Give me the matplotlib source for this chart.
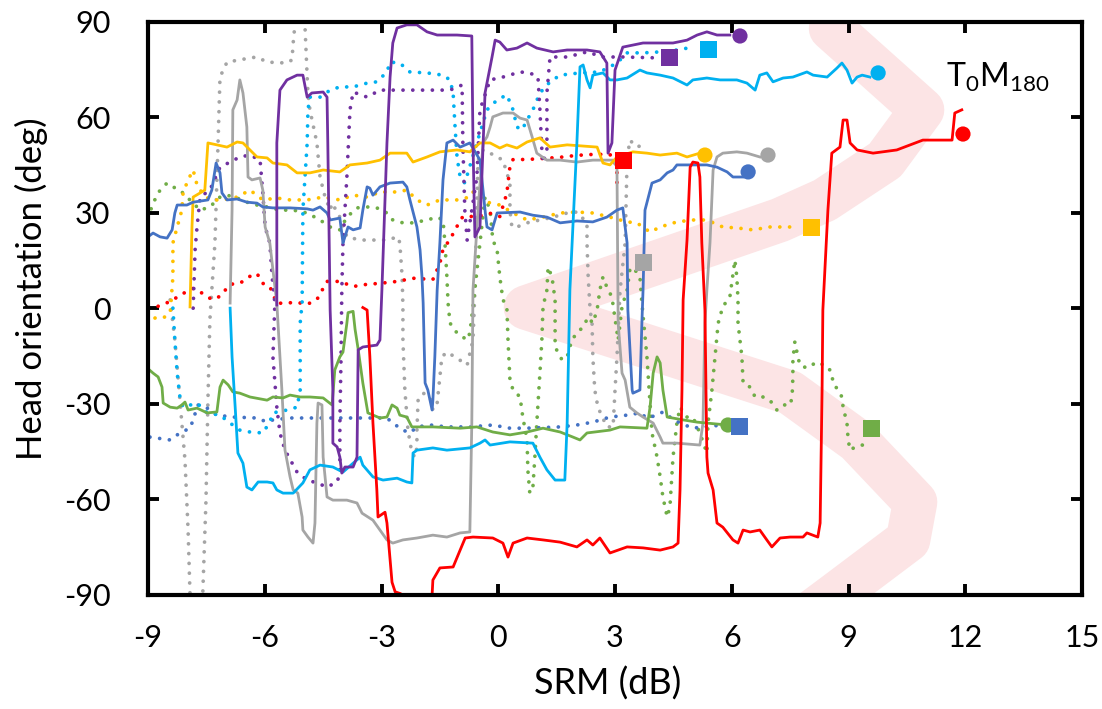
import matplotlib
matplotlib.use("Agg")
import matplotlib.pyplot as plt

# Predicted SRM band (centre line of the shaded path)
band_x = [8.55, 10.89, 9.94, 8.39, 7.24, 0.71, 7.50, 9.22, 10.71, 10.53, 8.65, 7.75]
band_y = [88.0, 62.4, 46.6, 34.1, 27.8, 0.3, -26.4, -41.6, -60.8, -72.7, -90.0, -98.2]

# Solid traces
red_x = [-3.48, -3.37, -3.30, -3.22, -3.12, -3.09, -2.91, -2.86, -2.73, -2.65, -2.53, -2.27, -1.75, -1.70,
         -1.68, -1.50, -1.16, -0.98, -0.85, -0.65, -0.14, 0.12, 0.25, 0.38, 0.74, 1.15, 1.59, 2.02, 2.28,
         2.43, 2.61, 2.87, 3.31, 3.72, 4.16, 4.49, 4.62, 4.67, 4.72, 4.75, 4.85, 4.93, 5.00, 5.13, 5.18,
         5.23, 5.31, 5.36, 5.39, 5.52, 5.62, 5.77, 6.03, 6.16, 6.29, 6.47, 6.72, 6.90, 7.03, 7.24, 7.50,
         7.83, 7.93, 8.21, 8.27, 8.32, 8.34, 8.47, 8.57, 8.78, 8.86, 8.96, 9.04, 9.22, 9.63, 10.24, 10.91,
         11.53, 11.66, 11.73, 11.91]
red_y = [0.3, -0.5, -15, -36, -57, -65.5, -64, -67.4, -86, -89, -89.5, -91, -91, -90,
         -85.3, -81.5, -81.2, -75.9, -72.1, -71.8, -72.1, -73.7, -78.1, -73.7, -72.1, -72.7, -73.4, -74.9, -72.7,
         -74.3, -72.1, -76.8, -74.9, -75.2, -75.9, -74.9, -73.7, -57, -25.6, 2.7, 21.5, 44.4, 46, 45.7, 41.3,
         20.6, -0.5, -46.7, -51.7, -57, -67.4, -68.7, -72.7, -73.7, -69.6, -70.2, -69.6, -72.7, -74.9, -72.1, -71.8,
         -71.8, -70.5, -71.8, -67.4, -25.6, -0.5, 30.9, 48.8, 50.7, 59.2, 59.2, 52, 49.8, 48.8, 49.8, 52.9,
         52.9, 52.9, 61.4, 62.4]

purple_x = [-5.69, -5.69, -5.69, -5.61, -5.43, -5.17, -5.02, -4.91, -4.79, -4.50, -4.40, -4.38, -4.32, -4.25,
            -4.25, -4.14, -4.07, -4.02, -3.94, -3.73, -3.63, -3.60, -3.48, -3.12, -3.04, -2.99, -2.86, -2.78,
            -2.71, -2.60, -2.35, -2.09, -1.83, -1.57, -1.06, -0.68, -0.65, -0.60, -0.47, -0.34, -0.16, -0.08,
            0.04, 0.22, 0.48, 0.74, 0.99, 1.41, 1.77, 2.28, 2.61, 2.79, 2.82, 2.92, 3.00, 3.20, 3.72, 4.49,
            4.85, 5.11, 5.36, 5.62, 5.95]
purple_y = [1.1, 34, 52, 68.6, 71.8, 73.3, 73.3, 66.4, 67.7, 68, 66.4, 52, -0.5, -25.6,
            -42.3, -43.5, -46.7, -51.7, -49.8, -49.8, -46.7, -13, -12.1, -11.5, -9.9, 5.8, 52, 72.7,
            83.4, 88.1, 89.1, 89.1, 86.9, 85.9, 85.9, 85.6, 52, 22.5, 25.6, 67.7, 79, 84.3,
            83.7, 81.2, 81.8, 83.4, 81.8, 80.6, 81.2, 81.2, 80.6, 77.1, 48.8, 52, 74.9, 82.1, 83.4, 83.4,
            84.3, 85.9, 86.9, 85.9, 85.9]

cyan_x = [-6.89, -6.84, -6.76, -6.69, -6.56, -6.46, -6.33, -6.17, -5.94, -5.79, -5.69, -5.53, -5.27, -5.02,
          -4.84, -4.58, -4.25, -3.99, -3.73, -3.55, -3.48, -3.22, -2.96, -2.60, -2.35, -2.22, -2.19, -2.09,
          -1.68, -1.32, -0.73, -0.47, -0.34, -0.21, 0.30, 0.89, 1.07, 1.25, 1.46, 1.71, 1.77, 1.84, 2.02,
          2.10, 2.18, 2.28, 2.36, 2.43, 2.69, 2.87, 3.05, 3.31, 3.64, 3.82, 4.16, 4.49, 4.85, 5.00, 5.36,
          5.70, 6.13, 6.39, 6.60, 6.72, 6.90, 7.06, 7.32, 7.57, 7.93, 8.09, 8.45, 8.70, 8.83, 8.96, 9.09,
          9.22, 9.35, 9.55]
cyan_y = [0.1, -15.2, -31, -45.4, -48.6, -56.1, -57, -54.5, -54.5, -54.8, -57, -58, -58, -54.8,
          -50.7, -49.2, -49.8, -51.4, -48.6, -46.7, -49.2, -52.9, -53.9, -53.3, -54.5, -54.8, -45.4, -44.5,
          -43.8, -44.5, -43.8, -42.3, -41.3, -42.9, -41.9, -42.3, -46.7, -50.7, -53.9, -53.9, -36, 5.8, 52,
          75.9, 76.5, 71.8, 69.3, 73.3, 74, 71.8, 71.8, 72.4, 74.9, 74, 73.3, 72.4, 70.2, 71.8, 72.4,
          71.8, 71.8, 70.8, 68.6, 73.3, 74, 71.2, 72.4, 72.7, 74.3, 73.3, 72.7, 75.5, 77.1, 74.9, 70.8,
          72.7, 73.3, 72.7]

yellow_x = [-7.92, -7.87, -7.84, -7.66, -7.54, -7.46, -7.23, -6.97, -6.71, -6.56, -6.38, -6.20, -5.94, -5.79,
            -5.43, -5.17, -4.84, -4.50, -4.07, -3.81, -3.37, -3.04, -2.78, -2.35, -2.19, -1.83, -1.50, -1.06,
            -0.73, -0.47, -0.21, 0.04, 0.22, 0.48, 0.74, 1.07, 1.33, 1.77, 2.54, 2.69, 2.87, 3.05, 3.46,
            3.82, 4.16, 4.59, 4.85, 5.18]
yellow_y = [0.5, 25.6, 35, 36.3, 37.2, 52, 51.4, 50.7, 52.3, 52, 49.8, 47.6, 47.3, 45.7,
            45.1, 42.6, 42.6, 43.5, 42.9, 45.1, 45.7, 46.6, 48.8, 48.8, 46, 47.6, 49.2, 49.8,
            49.2, 52, 52, 50.4, 51.4, 50.4, 52.3, 53.6, 50.7, 51.4, 50.7, 45.7, 45.1, 47.6, 49.2,
            48.8, 48.2, 48.8, 47.6, 48.8]

gray_x = [-6.89, -6.84, -6.82, -6.71, -6.64, -6.56, -6.46, -6.43, -6.33, -6.12, -6.05, -5.99, -5.87, -5.79,
          -5.69, -5.66, -5.56, -5.48, -5.35, -5.27, -5.15, -5.04, -5.02, -4.89, -4.76, -4.71, -4.66, -4.63,
          -4.53, -4.50, -4.40, -4.25, -3.89, -3.63, -3.50, -3.22, -3.04, -2.86, -2.71, -2.45, -2.09, -1.68,
          -1.32, -0.98, -0.73, -0.68, -0.65, -0.52, -0.39, -0.29, -0.21, -0.14, 0.12, 0.38, 0.56, 0.74,
          0.87, 0.99, 1.25, 1.59, 2.02, 2.43, 2.95, 3.05, 3.08, 3.18, 3.26, 3.38, 3.56, 3.72, 3.98, 4.16,
          4.23, 4.59, 5.18, 5.26, 5.31, 5.36, 5.44, 5.52, 5.62, 5.77, 6.13, 6.39, 6.72]
gray_y = [1.7, 30.9, 62.4, 65.5, 71.8, 67.7, 57, 41.3, 40.4, 41, 37.2, 25.6, 20.6, 12.1,
          1.7, -4.6, -25.6, -44.5, -52.9, -57, -58, -65.5, -69.6, -71.8, -73.7, -67.4, -36, -29.7,
          -30.3, -46.7, -59.2, -60.2, -60.2, -61.1, -64.3, -66.5, -69.6, -72.7, -73.7, -72.7, -72.1, -71.2,
          -71.8, -70.5, -70.2, -36, 5.8, 30.9, 52, 53.9, 57, 60.2, 61.4, 61.4, 59.8, 59.2,
          53.9, 48.8, 46.6, 46.6, 46, 46.6, 46.6, 44.4, -4.6, -20.3, -22.5, -31, -32.8, -34.1, -36, -40.4,
          -42.3, -42.3, -42.9, -36, -4.6, 5.8, 20.6, 43.5, 47.6, 48.8, 49.2, 48.8, 47.6]

blue_x = [-9.0, -8.87, -8.69, -8.51, -8.38, -8.31, -8.25, -8.0, -7.84, -7.46, -7.36, -7.25, -7.15, -7.10,
          -6.97, -6.71, -6.46, -6.20, -6.05, -5.79, -5.35, -4.91, -4.76, -4.58, -4.40, -4.32, -4.07, -3.99,
          -3.94, -3.86, -3.73, -3.55, -3.48, -3.37, -3.30, -3.22, -3.04, -2.78, -2.45, -2.35, -2.27, -2.09,
          -2.01, -1.96, -1.93, -1.88, -1.81, -1.70, -1.68, -1.63, -1.57, -1.50, -1.42, -1.32, -1.16, -0.98,
          -0.73, -0.65, -0.47, -0.34, -0.29, -0.16, -0.03, 0.56, 0.89, 1.25, 1.59, 2.02, 2.43, 2.79, 3.05,
          3.20, 3.31, 3.33, 3.44, 3.46, 3.64, 3.69, 3.72, 3.77, 3.95, 4.16, 4.34, 4.49, 4.59, 5.36, 5.62,
          5.88, 6.03, 6.29]
blue_y = [22.5, 23.7, 22.5, 22.1, 24.7, 30, 32.5, 32.5, 33.4, 34.1, 37.2, 45.7, 42.6, 36.3,
          34.1, 34.4, 33.4, 33.1, 31.9, 31.6, 31.6, 31.3, 30.9, 31.9, 30, 27.8, 28.4, 20.6,
          22.5, 25.6, 24.7, 25.3, 30.9, 38.2, 37.8, 35.6, 38.2, 39.4, 39.7, 38.2, 34.1, 25.6,
          18.4, 9.9, 1.7, -23.4, -25.6, -31.9, -28.8, -15.2, 5.8, 20.6, 40.4, 52, 52.9, 50.7,
          52, 50.4, 46.6, 30.9, 25.6, 24.7, 30, 30.3, 29.3, 28.7, 26.9, 27.5, 27.2, 28.7, 30.9,
          31.6, 20.6, -0.5, -25.6, -26.6, -25.6, -4.6, 5.8, 30.9, 39.4, 40.4, 42.6, 43.5, 45.1, 45.1, 44.4,
          42.9, 41.3, 41.3]

green_x = [-9.02, -8.87, -8.74, -8.64, -8.61, -8.43, -8.25, -8.13, -8.05, -7.97, -7.74, -7.48, -7.23, -7.15,
           -7.07, -6.94, -6.82, -6.64, -6.38, -5.94, -5.79, -5.53, -5.35, -5.09, -4.84, -4.50, -4.27, -4.20,
           -4.07, -3.99, -3.89, -3.86, -3.73, -3.68, -3.60, -3.48, -3.35, -3.04, -2.86, -2.73, -2.60, -2.53,
           -2.35, -2.22, -1.68, -0.98, -0.55, -0.14, 0.30, 0.74, 1.15, 1.59, 1.92, 2.10, 2.28, 2.87, 3.13,
           3.82, 3.90, 3.98, 4.08, 4.16, 4.23, 4.34, 4.75, 5.11, 5.36, 5.88]
green_y = [-18.7, -20.3, -21.5, -24.7, -29.7, -31, -31.3, -30.3, -29.4, -31.9, -31.3, -32.8, -32.5, -24.7,
           -22.5, -24, -26.2, -26.6, -27.8, -28.8, -27.8, -28.1, -27.2, -27.8, -27.8, -28.1, -30.3, -19.3,
           -15.2, -13.7, -4.6, -1.3, -0.9, -6.5, -12.8, -23.4, -32.8, -34.4, -34.1, -30.3, -31.3, -33.5,
           -34.1, -37.2, -37.2, -37.6, -37.2, -38.8, -39.7, -38.8, -37.6, -38.8, -40.4, -41.3, -39.1, -38.2, -37.2,
           -37.6, -31, -20.3, -15.2, -17.1, -25.6, -34.1, -35, -35.7, -36, -36.6]

# Dotted traces
red_dot_x = [-8.74, -8.43, -8.10, -7.84, -7.59, -7.36, -7.15, -6.89, -6.64, -6.38, -6.20, -6.05, -5.87, -5.69,
             -5.17, -4.91, -4.66, -4.40, -4.07, -3.73, -3.37, -3.04, -2.60, -2.19, -1.68, -1.50, -1.42, -1.24,
             -1.06, -0.91, -0.55, -0.21, 0.04, 0.22, 0.30, 0.38, 0.74, 1.25, 1.59, 2.02, 2.43, 2.87, 3.05, 3.05]
red_dot_y = [0.7, 2.2, 4.7, 6.3, 4.7, 2.8, 3.8, 7.6, 7.9, 10.1, 11.0, 7.9, 6.9, 1.6,
             1.9, 1.3, 2.8, 8.5, 8.5, 6.9, 7.6, 7.9, 8.5, 9.5, 9.1, 14.2, 18.6, 21.7,
             25.8, 28.9, 28.9, 29.9, 28.9, 36.2, 44.6, 46.8, 46.8, 47.2, 47.5, 48.1, 48.4, 48.4, 44.6, 36.6]

purple_dot_x = [-7.84, -7.79, -7.74, -7.66, -7.41, -7.15, -6.89, -6.64, -6.38, -6.12, -6.05, -5.99, -5.87, -5.81,
                -5.74, -5.79, -5.69, -5.61, -5.48, -5.17, -4.91, -4.66, -4.40, -4.14, -4.07, -4.07, -4.04, -4.02,
                -3.99, -3.89, -3.81, -3.73, -3.37, -3.04, -2.19, -1.24, -0.93, -0.91, -0.86, -0.80, -0.73, -0.55,
                -0.47, -0.21, 0.12, 0.56, 0.81, 1.02, 1.07, 1.12, 1.15, 1.25, 1.25, 1.33, 1.77, 2.28, 2.69, 3.20,
                4.16]
purple_dot_y = [0.1, 18.4, 25.6, 35, 37.2, 44.4, 46, 47.6, 48.2, 46.6, 36.3, 25.6, 20.6, 9.9,
                1.7, -15.2, -31, -39.1, -44.5, -51.4, -53.9, -54.8, -56.1, -54.5, -51.7, -36, -15.2, 5.8,
                20.6, 41.3, 62.4, 68, 66.4, 68.6, 68.6, 68.6, 70.2, 52, 30.9, 21.5, 26.9, 41.3,
                62.4, 71.8, 72.7, 74.3, 74, 72.7, 62.4, 49.8, 45.7, 49.8, 67.7, 79, 79, 80.6, 79, 79,
                78.7]

cyan_dot_x = [-8.36, -8.31, -8.25, -8.18, -8.10, -7.74, -7.48, -7.15, -6.89, -6.64, -6.38, -6.05, -5.87, -5.79,
              -5.43, -5.17, -5.09, -5.09, -5.04, -5.02, -4.91, -4.89, -4.84, -4.58, -4.32, -4.07, -3.73, -3.37,
              -3.12, -2.86, -2.78, -2.53, -2.27, -1.83, -1.42, -1.24, -1.16, -1.11, -1.06, -0.98, -0.86, -0.55,
              -0.29, -0.03, 0.22, 0.38, 0.48, 0.61, 0.74, 0.89, 1.07, 1.33, 1.59, 2.10, 2.61, 3.05, 3.31,
              3.72, 4.16, 4.59, 5.00]
cyan_dot_y = [0.1, -9.9, -20.3, -27.8, -31, -29.7, -32.8, -33.5, -36, -38.2, -38.8, -39.1, -35.7, -32.8,
              -31.9, -31, -25.6, -4.6, 1.7, 30.9, 52, 62.4, 66.4, 66.4, 68.6, 69.6, 69.6, 70.8,
              71.2, 74.3, 77.4, 77.1, 74.3, 74, 73.3, 71.8, 67.7, 57, 47.6, 41.3, 39.4, 52,
              62.4, 65.5, 67.1, 62.4, 57, 56.1, 59.2, 62.4, 67.7, 71.2, 73.3, 74, 74.3, 77.1, 80.3,
              80.3, 80.6, 81.2, 82.1]

yellow_dot_x = [-8.82, -8.61, -8.43, -8.36, -8.36, -8.25, -8.13, -8.10, -7.97, -7.84, -7.74, -7.61, -7.41, -7.07,
                -6.71, -6.38, -6.05, -5.69, -5.35, -4.91, -4.50, -4.07, -3.73, -3.37, -3.04, -2.60, -2.35, -2.09,
                -1.83, -1.50, -1.06, -0.73, -0.65, -0.29, 0.04, 0.38, 0.74, 1.15, 1.59, 2.02, 2.43, 2.87, 3.31,
                3.56, 3.90, 4.16, 4.59, 5.00, 5.36, 5.77, 6.13, 6.54, 6.98, 7.50]
yellow_dot_y = [-3.0, -3.0, -1.4, 9.9, 20.6, 25.6, 30.9, 36.3, 40.4, 43.5, 38.8, 36.3, 34.1, 34.1,
                35, 37.2, 34.1, 34.7, 34.1, 34.1, 35, 34.1, 35.6, 35, 36.6, 36.6, 37.2, 34.1,
                32.5, 34.1, 34.1, 35, 36.6, 33.4, 32.5, 30, 27.8, 28.7, 30, 30.3, 30, 28.7, 27.2,
                26.9, 24, 25.6, 27.2, 27.8, 27.8, 25.6, 25.3, 24.7, 25.6, 25.6]

gray_dot_x = [-8.43, -8.31, -8.18, -8.05, -7.97, -7.92, -7.90, -7.61, -7.59, -7.51, -7.46, -7.41, -7.36, -7.28,
              -7.20, -7.15, -6.97, -6.64, -6.38, -6.20, -5.94, -5.43, -5.30, -5.27, -5.22, -5.20, -4.97, -4.97,
              -4.91, -4.89, -4.84, -4.66, -4.58, -4.45, -4.32, -4.27, -4.07, -3.89, -3.55, -2.86, -2.58, -2.53,
              -2.47, -2.45, -2.45, -2.40, -2.32, -2.22, -2.14, -2.09, -2.09, -2.06, -1.93, -1.75, -1.68, -1.57,
              -1.50, -1.45, -1.32, -1.06, -0.80, -0.65, -0.60, -0.52, -0.39, -0.21, 0.12, 0.30, 0.30, 0.35,
              0.48, 0.74, 1.07, 1.41, 1.77, 2.02, 2.28, 2.28, 2.31, 2.36, 2.41, 2.43, 2.48, 2.56, 2.79, 2.95,
              3.00, 3.05, 3.13, 3.26, 3.31, 3.38, 3.56, 3.72]
gray_dot_y = [2.7, -9.9, -28.8, -47.6, -69.6, -90, -98, -98, -88.5, -60.2, -28.8, -3.6, 5.8, 20.6,
              52, 72.7, 77.4, 78.1, 78.7, 79, 77.4, 77.1, 78.1, 83.4, 89.7, 95, 95, 89.7,
              72.7, 67.7, 62.4, 52, 41.3, 35, 30.9, 33.1, 28.7, 22.5, 21.5, 21.5, 22.5, 20.6,
              9.9, 0.6, -9.9, -25.6, -38.2, -45.4, -46.7, -43.5, -38.2, -28.8, -26.6, -27.8, -31.9, -29.7,
              -21.5, -15.2, -13.7, -15.6, -17.8, -9.9, 5.8, 46.6, 49.8, 48.8, 46.6, 39.4, 30.9, 25.6,
              25.6, 26.9, 27.8, 28.7, 30, 30.3, 26.9, 20.6, 9.9, -0.5, -4.6, -15.2, -25.6, -31, -37.2, -37.2,
              -25.6, -15.2, 5.8, 20.6, 46.6, 52.9, 50.7, 51.4]

blue_dot_x = [-8.95, -8.43, -8.18, -7.92, -7.84, -7.72, -7.48, -7.23, -6.82, -6.20, -5.94, -5.79, -5.35, -2.86,
              -2.71, -2.45, -2.27, -2.09, -1.75, -1.32, -0.73, -0.14, 0.30, 0.74, 1.59, 2.02, 2.43, 2.87,
              3.31, 3.64, 3.82, 4.08, 4.23, 4.41, 4.67, 5.00, 5.26, 5.77]
blue_dot_y = [-40.4, -41.3, -39.1, -37.6, -35, -30.3, -31.3, -33.5, -34.1, -34.4, -35.7, -35, -34.4, -34.4,
              -36, -38.2, -39.1, -37.2, -36.6, -37.2, -37.2, -36.6, -37.6, -37.6, -37.2, -36.6, -35.7, -34.1,
              -33.5, -32.8, -34.4, -33.5, -32.5, -34.1, -36, -37.6, -37.2, -36.6]

green_dot_x = [-9.0, -8.87, -8.69, -8.51, -8.36, -8.18, -8.0, -7.84, -7.66, -7.41, -7.15, -6.97, -6.71, -6.46,
               -6.20, -5.94, -5.61, -5.27, -4.91, -4.58, -4.32, -4.07, -3.89, -3.63, -3.37, -3.12, -2.86, -2.71,
               -2.45, -2.19, -1.83, -1.57, -1.42, -1.37, -1.32, -1.29, -1.24, -1.06, -0.80, -0.73, -0.65, -0.47,
               -0.34, -0.21, -0.14, -0.03, 0.04, 0.12, 0.22, 0.25, 0.30, 0.38, 0.56, 0.63, 0.74, 0.76, 0.81,
               0.89, 0.94, 0.99, 1.07, 1.12, 1.15, 1.25, 1.28, 1.38, 1.46, 1.46, 1.64, 1.77, 1.89, 2.02, 2.18,
               2.31, 2.43, 2.54, 2.61, 2.69, 2.79, 2.92, 3.08, 3.18, 3.31, 3.38, 3.46, 3.64, 3.69, 3.82, 3.95,
               4.08, 4.16, 4.23, 4.34, 4.41, 4.49, 4.59, 4.67, 4.85, 5.00, 5.18, 5.36, 5.39, 5.49, 5.57, 5.65,
               5.77, 5.95, 6.08, 6.13, 6.16, 6.16, 6.26, 6.29, 6.47, 6.60, 6.80, 6.98, 7.16, 7.32, 7.50, 7.55,
               7.57, 7.57, 7.62, 7.70, 7.75, 7.93, 8.19, 8.47, 8.57, 8.60, 8.73, 8.83, 8.86, 8.91, 8.96, 8.99,
               9.04, 9.17, 9.35, 9.50]
green_dot_y = [28.4, 33.1, 37.2, 39.4, 38.2, 37.2, 35, 33.1, 30.9, 31.9, 35, 35.6, 34.7, 33.4,
               32.5, 31.9, 30.9, 30.9, 30, 27.8, 25.6, 24.7, 28.7, 31.6, 31.9, 31.6, 30, 27.8,
               26.9, 26.9, 27.8, 28.7, 27.8, 20.6, 9.9, 1.7, -4.6, -7.7, -9.9, -7.7, 0.6, 20.6,
               35, 30.9, 21.5, 18.4, 9.9, 2.7, 0.6, -9.9, -22.5, -25.6, -27.8, -34.1, -41.3, -50.7, -58,
               -56.1, -46.7, -36, -20.3, -9.9, 0.6, 5.8, 13, 9.9, 2.7, -12.1, -16.2, -15.2, -9.9, -7.7, -5.8,
               -2.7, -4.6, -0.5, 5.8, 9.9, 6.7, 3.6, -9.9, 0.6, 5.8, 12.1, 13, 9.9, 1.7, -15.2, -39.1,
               -46.7, -52.9, -59.2, -65.5, -62.4, -46.7, -36, -31, -34.1, -34.1, -39.1, -45.4, -36, -25.6, -15.2, -4.6,
               0.6, 3.6, 15.2, 9.9, 2.7, -4.6, -15.2, -23.4, -24.7, -27.8, -27.8, -28.8, -31.9, -30.3, -30.3, -27.8,
               -21.5, -16.2, -10.5, -15.2, -17.8, -18.7, -16.8, -18.4, -20.3, -23.4, -25.6, -27.8, -31, -33.5, -36, -41.3,
               -44.5, -43.5, -42.9, -43.2]

# End-point markers: circles for solid traces, squares for dotted traces
circle_x = [6.21, 9.76, 11.94, 5.31, 6.93, 6.42, 5.90]
circle_y = [85.6, 74.0, 54.8, 48.2, 48.2, 42.9, -36.6]
circle_colors = ["#7030A0", "#00B0F0", "#FF0000", "#FFC000", "#A5A5A5", "#4472C4", "#70AD47"]
square_x = [4.39, 5.41, 3.23, 8.06, 3.72, 9.58, 6.21]
square_y = [78.7, 81.2, 46.6, 25.3, 14.6, -37.6, -37.2]
square_colors = ["#7030A0", "#00B0F0", "#FF0000", "#FFC000", "#A5A5A5", "#70AD47", "#4472C4"]

x_ticks = [-9, -6, -3, 0, 3, 6, 9, 12, 15]
y_ticks = [-90, -60, -30, 0, 30, 60, 90]

plt.rcParams["font.family"] = ["Lato", "DejaVu Sans"]
plt.rcParams["axes.unicode_minus"] = False

fig = plt.figure(figsize=(11.02, 7.09), dpi=100)
ax = fig.add_axes([0.1343, 0.1608, 0.8476, 0.8082])

ax.plot(band_x, band_y, color="#FCE4E5", linewidth=32, solid_capstyle="round",
        solid_joinstyle="round", zorder=1)

dotted = dict(linestyle=(0, (0.01, 2.6)), linewidth=2.7, dash_capstyle="round", zorder=2)
ax.plot(gray_dot_x, gray_dot_y, color="#A5A5A5", **dotted)
ax.plot(green_dot_x, green_dot_y, color="#70AD47", **dotted)
ax.plot(blue_dot_x, blue_dot_y, color="#4472C4", **dotted)
ax.plot(yellow_dot_x, yellow_dot_y, color="#FFC000", **dotted)
ax.plot(red_dot_x, red_dot_y, color="#FF0000", **dotted)
ax.plot(cyan_dot_x, cyan_dot_y, color="#00B0F0", **dotted)
ax.plot(purple_dot_x, purple_dot_y, color="#7030A0", **dotted)

solid = dict(linewidth=2.0, solid_joinstyle="round", zorder=3)
ax.plot(gray_x, gray_y, color="#A5A5A5", **solid)
ax.plot(green_x, green_y, color="#70AD47", **solid)
ax.plot(yellow_x, yellow_y, color="#FFC000", **solid)
ax.plot(blue_x, blue_y, color="#4472C4", **solid)
ax.plot(cyan_x, cyan_y, color="#00B0F0", **solid)
ax.plot(purple_x, purple_y, color="#7030A0", **solid)
ax.plot(red_x, red_y, color="#FF0000", **solid)

ax.scatter(circle_x, circle_y, s=120, marker="o", c=circle_colors, linewidths=0, zorder=5, clip_on=False)
ax.scatter(square_x, square_y, s=150, marker="s", c=square_colors, linewidths=0, zorder=5, clip_on=False)

ax.text(11.5, 72.5, r"$\mathregular{T_0M_{180}}$", fontsize=23, ha="left", va="center")

ax.set_xlim(-9, 15)
ax.set_ylim(-90, 90)
ax.set_xticks(x_ticks)
ax.set_yticks(y_ticks)
ax.tick_params(direction="in", length=8, width=2.8, top=True, right=True,
               labelsize=22, color="black")
ax.tick_params(axis="x", pad=21)
ax.tick_params(axis="y", pad=27)
for spine in ax.spines.values():
    spine.set_linewidth(3)
    spine.set_zorder(6)

ax.set_xlabel("SRM (dB)", fontsize=26)
ax.set_ylabel("Head orientation (deg)", fontsize=25)
ax.xaxis.set_label_coords(0.4925, -0.125)
ax.yaxis.set_label_coords(-0.107, 0.535)

fig.savefig("out.png", dpi=100)
